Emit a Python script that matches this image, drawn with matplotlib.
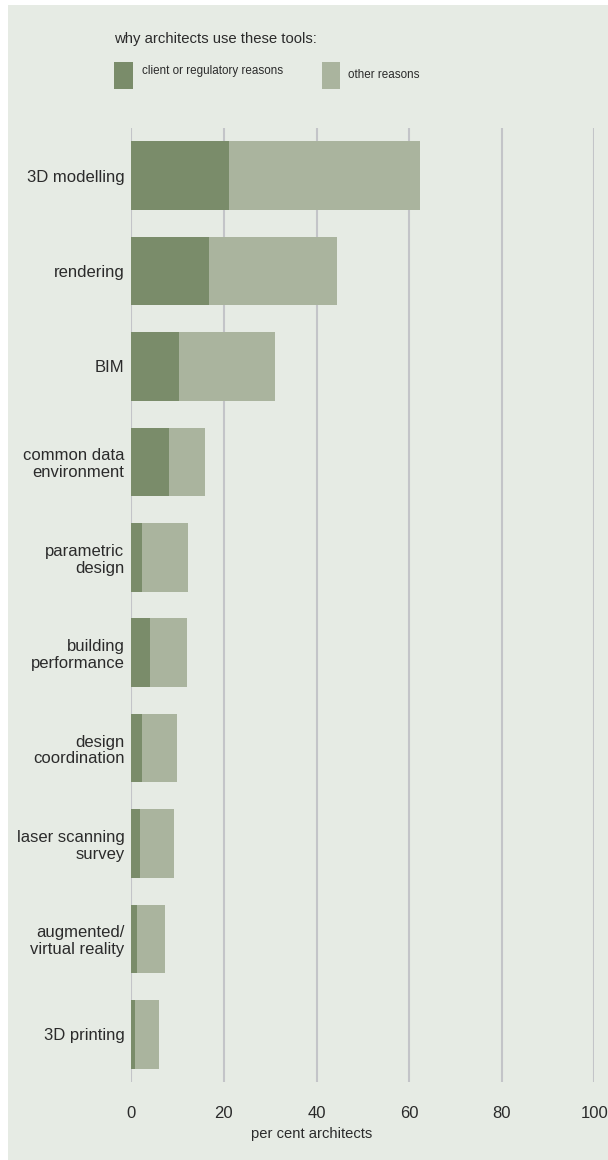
import matplotlib
matplotlib.use("Agg")
import matplotlib.pyplot as plt
from matplotlib.patches import Rectangle
import numpy as np

categories = ["3D modelling", "rendering", "BIM", "common data\nenvironment",
              "parametric\ndesign", "building\nperformance", "design\ncoordination",
              "laser scanning\nsurvey", "augmented/\nvirtual reality", "3D printing"]
client = [21.1, 16.8, 10.3, 8.1, 2.3, 4.0, 2.3, 1.9, 1.2, 0.8]
total = [62.4, 44.4, 31.1, 16.0, 12.2, 12.0, 9.9, 9.2, 7.3, 6.0]
other = [t - c for t, c in zip(total, client)]
xticks = [0, 20, 40, 60, 80, 100]

DARK = "#7a8c6a"
LIGHT = "#aab49e"
BG = "#e6ebe4"
GRID = "#c3c4c8"
TXT = "#2b2b2b"
FONT = ["Liberation Sans", "DejaVu Sans"]
plt.rcParams["font.family"] = FONT

W, H = 608, 1160
fig = plt.figure(figsize=(W / 100, H / 100), dpi=100)
fig.patch.set_facecolor("white")
fig.add_artist(Rectangle((8 / W, 0), 1, (H - 5) / H, transform=fig.transFigure,
                         facecolor=BG, edgecolor="none", zorder=-10))

left, right = 131.3, 594.3
top, bottom = 128, 1082
ax = fig.add_axes([left / W, 1 - bottom / H, (right - left) / W, (bottom - top) / H])
ax.set_facecolor("none")
y = np.arange(len(categories))
ax.barh(y, client, height=0.72, color=DARK, zorder=3)
ax.barh(y, other, left=client, height=0.72, color=LIGHT, zorder=3)
ax.set_xlim(0, 100)
ax.set_ylim(len(categories) - 0.5, -0.5)
ax.set_xticks(xticks)
ax.set_xticklabels([str(v) for v in xticks])
ax.set_yticks(y)
ax.set_yticklabels(categories, ha="right", linespacing=1.15)
for s in ax.spines.values():
    s.set_visible(False)
ax.grid(axis="x", color=GRID, linewidth=1.5, zorder=1)
ax.tick_params(axis="both", length=0, colors=TXT, labelsize=12)
ax.tick_params(axis="x", pad=17)
ax.tick_params(axis="y", pad=5)

fig.text(312 / W, 1 - 1134 / H, "per cent architects", ha="center", va="center",
         fontsize=10.6, color=TXT)
fig.text(114 / W, 1 - 39 / H, "why architects use these tools:", ha="left", va="center",
         fontsize=10.7, color=TXT)
fig.add_artist(Rectangle((114 / W, 1 - 89 / H), 19 / W, 27 / H, transform=fig.transFigure,
                         facecolor=DARK, edgecolor="none"))
fig.text(142 / W, 1 - 71 / H, "client or regulatory reasons", ha="left", va="center",
         fontsize=8.4, color=TXT)
fig.add_artist(Rectangle((322 / W, 1 - 89 / H), 18 / W, 27 / H, transform=fig.transFigure,
                         facecolor=LIGHT, edgecolor="none"))
fig.text(348 / W, 1 - 75 / H, "other reasons", ha="left", va="center",
         fontsize=8.4, color=TXT)

fig.savefig("out.png", dpi=100, facecolor=fig.get_facecolor())
